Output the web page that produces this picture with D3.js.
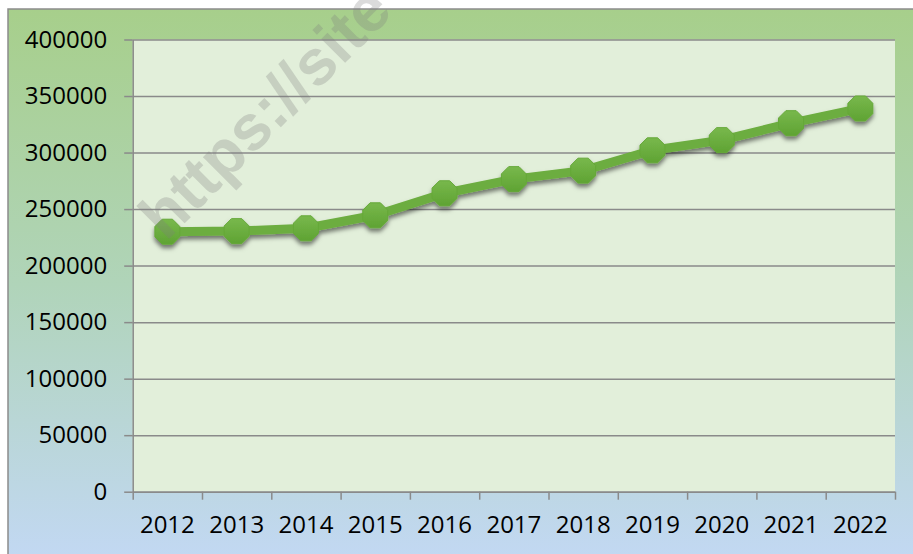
<!DOCTYPE html>
<html>
<head>
<meta charset="utf-8">
<script src="https://cdn.jsdelivr.net/npm/d3@7"></script>
<style>
  html, body { margin: 0; padding: 0; background: #fff; }
  svg { display: block; }
  .axis text { font-family: "Open Sans", sans-serif; font-size: 24px; fill: #000; }
</style>
</head>
<body>
<svg id="chart"></svg>
<script>
/*
Chart data
 */
var years = ["2012", "2013", "2014", "2015", "2016", "2017", "2018", "2019", "2020", "2021", "2022"];
var values = [230000, 230500, 233000, 244500, 264000, 276500, 284000, 302000, 311000, 326000, 339000];
var yTicks = [0, 50000, 100000, 150000, 200000, 250000, 300000, 350000, 400000];

/*
Static constants
 */
const width = 913;
const height = 554;
const frame = {left: 8, top: 9};
const plot = {left: 132.7, top: 39.5, right: 895, bottom: 491.7};
const lineColor = "#6cad3f";
const gridColor = "#8a8a8a";

var svg = d3.select("#chart")
    .attr("width", width)
    .attr("height", height);

var defs = svg.append("defs");

//background gradient of the chart area, green at the top to light blue at the bottom
var bg = defs.append("linearGradient")
    .attr("id", "bgGrad")
    .attr("x1", 0).attr("y1", 0).attr("x2", 0).attr("y2", 1);
bg.append("stop").attr("offset", "0%").attr("stop-color", "#a7cf8b");
bg.append("stop").attr("offset", "50%").attr("stop-color", "#b0d4b9");
bg.append("stop").attr("offset", "100%").attr("stop-color", "#c2d8f3");

//marker fill, a bit lighter on top
var mk = defs.append("linearGradient")
    .attr("id", "mkGrad")
    .attr("x1", 0).attr("y1", 0).attr("x2", 0).attr("y2", 1);
mk.append("stop").attr("offset", "0%").attr("stop-color", "#78b84c");
mk.append("stop").attr("offset", "100%").attr("stop-color", "#5fa333");

var shadow = defs.append("filter")
    .attr("id", "shadow")
    .attr("x", "-20%").attr("y", "-20%").attr("width", "140%").attr("height", "160%");
shadow.append("feDropShadow")
    .attr("dx", 0).attr("dy", 3.5)
    .attr("stdDeviation", 2.2)
    .attr("flood-color", "#000")
    .attr("flood-opacity", 0.5);

//outer chart area with its border (only left and top are in view)
svg.append("rect")
    .attr("x", frame.left).attr("y", frame.top)
    .attr("width", width - frame.left + 5).attr("height", height - frame.top + 5)
    .attr("fill", "url(#bgGrad)")
    .attr("stroke", "#8c8c8c")
    .attr("stroke-width", 1.5);

//plot area
svg.append("rect")
    .attr("x", plot.left).attr("y", plot.top)
    .attr("width", plot.right - plot.left).attr("height", plot.bottom - plot.top)
    .attr("fill", "#e2efda");

/*
Scales
 */
var x = d3.scaleBand()
    .domain(years)
    .range([plot.left, plot.right])
    .padding(0);

var xEdges = d3.scaleLinear()
    .domain([0, years.length])
    .range([plot.left, plot.right]);

var y = d3.scaleLinear()
    .domain([0, 400000])
    .range([plot.bottom, plot.top]);

//gridlines
svg.append("g")
    .attr("transform", "translate(" + plot.left + ",0)")
    .call(d3.axisLeft(y).tickValues(yTicks).tickSize(-(plot.right - plot.left)).tickFormat(""))
    .call(function(g) {
        g.select(".domain").remove();
        g.selectAll("line").attr("stroke", gridColor).attr("stroke-width", 1.5);
    });

//y axis
svg.append("g")
    .attr("class", "axis")
    .attr("transform", "translate(" + plot.left + ",0)")
    .call(d3.axisLeft(y).tickValues(yTicks).tickSize(8.5).tickSizeOuter(0).tickPadding(17).tickFormat(d3.format("d")))
    .call(function(g) {
        g.select(".domain").attr("stroke", gridColor).attr("stroke-width", 1.5);
        g.selectAll("line").attr("stroke", gridColor).attr("stroke-width", 1.5);
    });

//x axis ticks sit on the category edges
svg.append("g")
    .attr("transform", "translate(0," + plot.bottom + ")")
    .call(d3.axisBottom(xEdges).tickValues(d3.range(years.length + 1)).tickSize(8).tickSizeOuter(0).tickFormat(""))
    .call(function(g) {
        g.select(".domain").attr("stroke", gridColor).attr("stroke-width", 1.5);
        g.selectAll("line").attr("stroke", gridColor).attr("stroke-width", 1.5);
    });

//x labels in the middle of each category
svg.append("g")
    .attr("class", "axis")
    .attr("transform", "translate(0," + plot.bottom + ")")
    .call(d3.axisBottom(x).tickSize(0).tickPadding(24))
    .call(function(g) { g.select(".domain").remove(); });

/*
Series line and markers
 */
var series = years.map(function(d, i) { return {year: d, value: values[i]}; });

var line = d3.line()
    .x(function(d) { return x(d.year) + x.bandwidth() / 2; })
    .y(function(d) { return y(d.value); });

var seriesG = svg.append("g").attr("filter", "url(#shadow)");

seriesG.append("path")
    .datum(series)
    .attr("fill", "none")
    .attr("stroke", lineColor)
    .attr("stroke-width", 9)
    .attr("stroke-linejoin", "round")
    .attr("d", line);

//octagon marker shape
var markerR = 13.5;
var octagon = d3.range(8).map(function(k) {
    var a = Math.PI / 8 + k * Math.PI / 4;
    return [markerR * Math.cos(a), markerR * Math.sin(a)];
});

seriesG.selectAll(".marker")
    .data(series)
    .join("path")
    .attr("class", "marker")
    .attr("transform", function(d) {
        return "translate(" + (x(d.year) + x.bandwidth() / 2) + "," + y(d.value) + ")";
    })
    .attr("d", d3.line().curve(d3.curveLinearClosed)(octagon))
    .attr("fill", "url(#mkGrad)")
    .attr("stroke", "#65a838")
    .attr("stroke-width", 1)
    .attr("stroke-linejoin", "round");

//watermark across the top left, runs off the top edge as in the original
svg.append("text")
    .attr("transform", "translate(166,242) rotate(-45)")
    .attr("font-family", "Liberation Sans, Arial, sans-serif")
    .attr("font-weight", "bold")
    .attr("font-size", 64)
    .attr("fill", "#7f7f7f")
    .attr("fill-opacity", 0.28)
    .text("https://site");
</script>
</body>
</html>
